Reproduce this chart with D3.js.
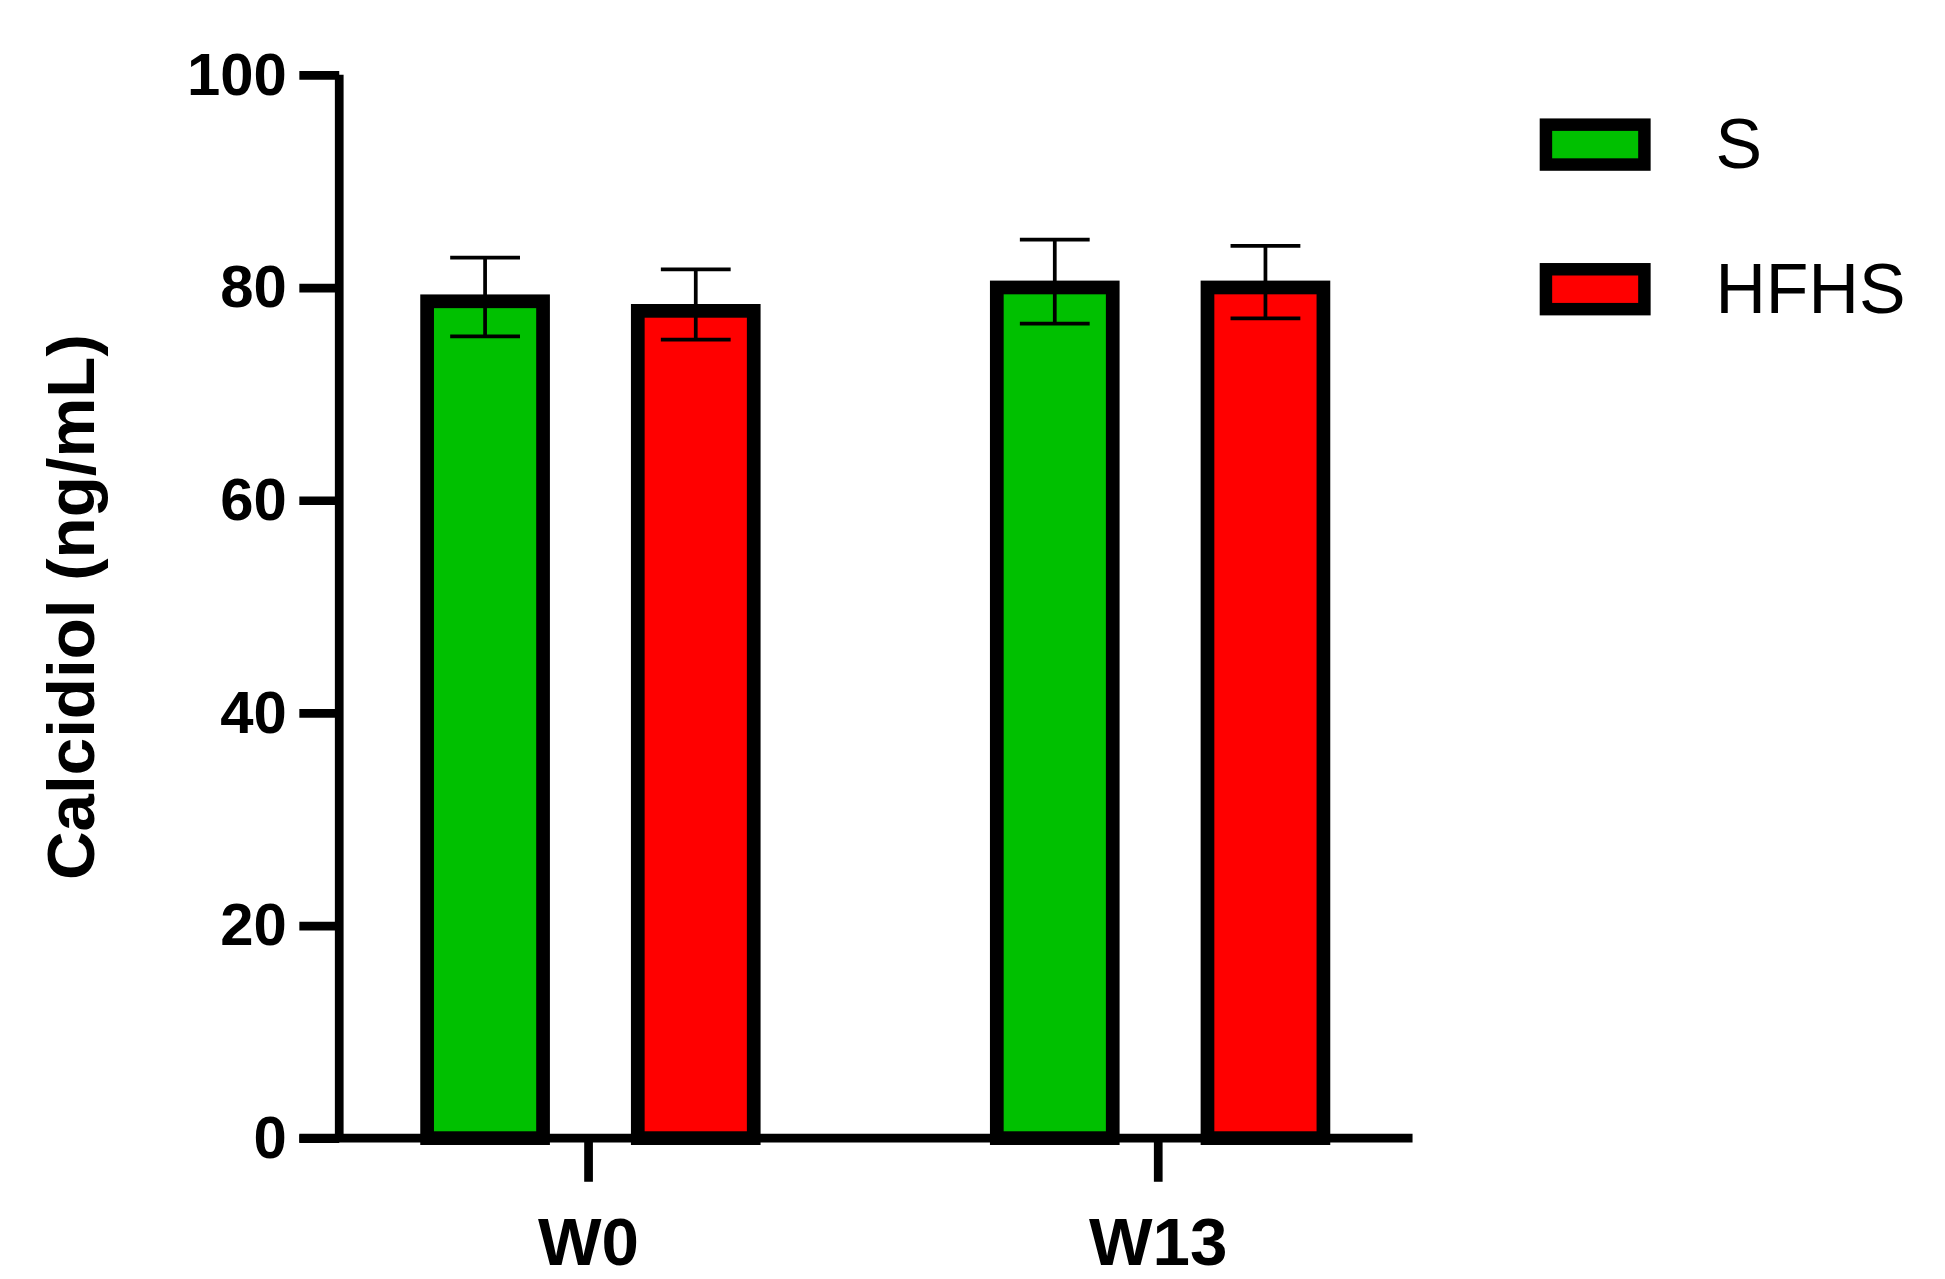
<!DOCTYPE html>
<html><head><meta charset="utf-8">
<script src="https://cdn.jsdelivr.net/npm/d3@7"></script>
<style>body{margin:0;background:#fff}</style>
</head><body>
<svg width="1945" height="1279" viewBox="0 0 1560 1026"></svg>
<script>
var groups = ["W0", "W13"];
var series = ["S", "HFHS"];
var colors = ["#00c000", "#ff0000"];
var means = [[78.7, 77.8], [80.0, 80.0]];
var errHi = [[82.8, 81.7], [84.5, 83.9]];
var errLo = [[75.4, 75.1], [76.6, 77.1]];
var yTicks = [0, 20, 40, 60, 80, 100];

var svg = d3.select("svg");
var font = "Arial, 'Liberation Sans', sans-serif";

var y = d3.scaleLinear().domain([0, 100]).range([913, 60]);
var x0 = d3.scalePoint().domain(groups).range([472, 929]);
var x1 = d3.scalePoint().domain(series).range([-83, 86]); // bar centre offset

// y axis
var yAxis = svg.append("g").attr("transform", "translate(272,0)")
  .call(d3.axisLeft(y).tickValues(yTicks).tickSize(32).tickPadding(10));
yAxis.select(".domain").attr("stroke", "#000").attr("stroke-width", 7).attr("d", "M0," + y(100) + "V" + y(0));
yAxis.selectAll(".tick line").attr("stroke", "#000").attr("stroke-width", 7);
yAxis.selectAll(".tick text").attr("font-family", font).attr("font-weight", "bold")
  .attr("font-size", 48).attr("fill", "#000");

// x axis line
svg.append("line").attr("x1", 240).attr("x2", 1133).attr("y1", y(0)).attr("y2", y(0))
  .attr("stroke", "#000").attr("stroke-width", 7);

var bw = 93;
groups.forEach(function (g, gi) {
  series.forEach(function (s, si) {
    var cx = x0(g) + x1(s);
    svg.append("rect").attr("x", cx - bw / 2).attr("width", bw)
      .attr("y", y(means[gi][si])).attr("height", y(0) - y(means[gi][si]))
      .attr("fill", colors[si]).attr("stroke", "#000").attr("stroke-width", 11);
    var e = svg.append("g").attr("stroke", "#000").attr("stroke-width", 3);
    e.append("line").attr("x1", cx).attr("x2", cx).attr("y1", y(errHi[gi][si])).attr("y2", y(errLo[gi][si]));
    [errHi[gi][si], errLo[gi][si]].forEach(function (v) {
      e.append("line").attr("x1", cx - 28).attr("x2", cx + 28).attr("y1", y(v)).attr("y2", y(v));
    });
  });
  svg.append("line").attr("x1", x0(g)).attr("x2", x0(g)).attr("y1", y(0)).attr("y2", 948)
    .attr("stroke", "#000").attr("stroke-width", 7);
  svg.append("text").attr("x", x0(g)).attr("y", 1015).attr("text-anchor", "middle")
    .attr("font-family", font).attr("font-weight", "bold").attr("font-size", 54).text(g);
});

// y title
svg.append("text").attr("transform", "translate(75,487) rotate(-90)").attr("text-anchor", "middle")
  .attr("font-family", font).attr("font-weight", "bold").attr("font-size", 54)
  .text("Calcidiol (ng/mL)");

// legend
series.forEach(function (s, i) {
  var ly = 116 + i * 116;
  svg.append("rect").attr("x", 1240).attr("y", ly - 16).attr("width", 79).attr("height", 32)
    .attr("fill", colors[i]).attr("stroke", "#000").attr("stroke-width", 10);
  svg.append("text").attr("x", 1376).attr("y", ly + 19).attr("font-family", font)
    .attr("font-size", 56).text(s);
});
</script>
</body></html>
